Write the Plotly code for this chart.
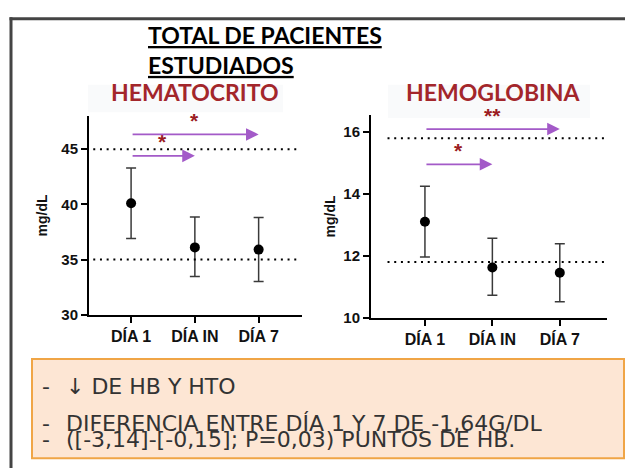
import plotly.graph_objects as go

# the page places the figure 8px in from the left edge
OFFX, OFFY = 8, 0
W, H = 633 - OFFX, 468 - OFFY

# ---------------- data ----------------
categories = ["DÍA 1", "DÍA IN", "DÍA 7"]
hto_mean = [40.1, 36.1, 35.9]
hto_upper = [43.3, 38.85, 38.8]
hto_lower = [36.9, 33.45, 33.0]
hb_mean = [13.1, 11.62, 11.45]
hb_upper = [14.25, 12.57, 12.39]
hb_lower = [11.96, 10.72, 10.51]
hto_ref_lines = [35, 45]
hb_ref_lines = [11.8, 15.8]
hto_ticks = [30, 35, 40, 45]
hb_ticks = [10, 12, 14, 16]
hto_range = [30, 48]
hb_range = [10, 16.55]
# comparisons: from index, to index, arrow level, label
hto_sig_from = [0, 0]
hto_sig_to = [1, 2]
hto_sig_arrow = [44.4, 46.34]
hto_sig_label = ["*", "*"]
hb_sig_from = [0, 0]
hb_sig_to = [1, 2]
hb_sig_arrow = [14.96, 16.1]
hb_sig_label = ["*", "**"]

main_title = ["TOTAL DE PACIENTES", "ESTUDIADOS"]
panel_titles = ["HEMATOCRITO", "HEMOGLOBINA"]
y_label = "mg/dL"
notes = ["↓ DE HB Y HTO",
         "DIFERENCIA ENTRE DÍA 1 Y 7 DE -1,64G/DL",
         "([-3,14]-[-0,15]; P=0,03) PUNTOS DE HB."]

# ---------------- styling ----------------
def px(x):
    return (x - OFFX) / W


def py(y):
    return 1 - (y - OFFY) / H


HEAD_RED = "#a3262b"
STAR_RED = "#9b1c22"
ARROW = "#a35ac8"
TICKFONT = "Liberation Sans, Arial, sans-serif"

fig = go.Figure()

panels = [
    dict(xa="x", ya="y", mean=hto_mean, up=hto_upper, lo=hto_lower,
         refs=hto_ref_lines, ticks=hto_ticks, rng=hto_range,
         sf=hto_sig_from, st=hto_sig_to, sa=hto_sig_arrow, sl=hto_sig_label,
         xdom=[px(89), px(302)], ydom=[py(312), py(110)], xr=[-0.66, 2.68],
         dot0=0.02, standoff=10),
    dict(xa="x2", ya="y2", mean=hb_mean, up=hb_upper, lo=hb_lower,
         refs=hb_ref_lines, ticks=hb_ticks, rng=hb_range,
         sf=hb_sig_from, st=hb_sig_to, sa=hb_sig_arrow, sl=hb_sig_label,
         xdom=[px(371), px(607)], ydom=[py(315), py(109)], xr=[-0.8, 2.7],
         dot0=0.07, standoff=4),
]

shapes = []
annotations = []

for i, p in enumerate(panels):
    err_plus = [u - m for u, m in zip(p["up"], p["mean"])]
    err_minus = [m - l for m, l in zip(p["mean"], p["lo"])]
    fig.add_trace(go.Scatter(
        x=categories, y=p["mean"], mode="markers",
        marker=dict(color="black", size=10),
        error_y=dict(type="data", array=err_plus, arrayminus=err_minus,
                     color="#3a3a3a", thickness=1.5, width=5),
        xaxis=p["xa"], yaxis=p["ya"], showlegend=False, cliponaxis=False,
    ))
    for r in p["refs"]:
        shapes.append(dict(type="line", xref=p["xa"] + " domain", yref=p["ya"],
                           x0=p["dot0"], x1=0.99, y0=r, y1=r,
                           line=dict(color="black", width=2, dash="2px,4.7px")))
    for f, t, a, lab in zip(p["sf"], p["st"], p["sa"], p["sl"]):
        annotations.append(dict(xref=p["xa"], yref=p["ya"], x=t, y=a,
                                axref=p["xa"], ayref=p["ya"], ax=f, ay=a,
                                showarrow=True, arrowhead=2, arrowsize=1.4,
                                arrowwidth=1.8, arrowcolor=ARROW, text="",
                                standoff=0, startstandoff=0))
        annotations.append(dict(xref=p["xa"], yref=p["ya"], x=(f + t) / 2, y=a,
                                text="<b>%s</b>" % lab, showarrow=False,
                                font=dict(family=TICKFONT, size=21, color=STAR_RED),
                                yanchor="middle", yshift=14))

    axis_common = dict(showline=True, linecolor="black", linewidth=2,
                       ticks="outside", ticklen=6, tickwidth=2, tickcolor="black",
                       showgrid=False, zeroline=False)
    xkey = "xaxis" if i == 0 else "xaxis2"
    ykey = "yaxis" if i == 0 else "yaxis2"
    fig.update_layout(**{
        xkey: dict(domain=p["xdom"], anchor=p["ya"], range=p["xr"],
                   type="category", categoryorder="array", categoryarray=categories,
                   tickfont=dict(family=TICKFONT, size=16, color="#111", weight="bold"),
                   **axis_common),
        ykey: dict(domain=p["ydom"], anchor=p["xa"], range=p["rng"],
                   tickvals=p["ticks"],
                   tickfont=dict(family=TICKFONT, size=15, color="#111", weight="bold"),
                   title=dict(text="<b>%s</b>" % y_label, standoff=p["standoff"],
                              font=dict(family=TICKFONT, size=14, color="#111")),
                   **axis_common),
    })

# faint backgrounds behind panel headings
shapes.append(dict(type="rect", xref="paper", yref="paper",
                   x0=px(88), x1=px(283), y0=py(106), y1=py(78),
                   fillcolor="#f9fafb", line=dict(width=0), layer="below"))
shapes.append(dict(type="rect", xref="paper", yref="paper",
                   x0=px(388), x1=px(590), y0=py(112), y1=py(78),
                   fillcolor="#f9fafb", line=dict(width=0), layer="below"))

# outer frame (left + top)
shapes.append(dict(type="line", xref="paper", yref="paper",
                   x0=px(11), x1=px(11), y0=0, y1=py(9.5),
                   line=dict(color="#444", width=3)))
shapes.append(dict(type="line", xref="paper", yref="paper",
                   x0=px(9.5), x1=1, y0=py(11), y1=py(11),
                   line=dict(color="#444", width=3)))

# notes box
shapes.append(dict(type="rect", xref="paper", yref="paper",
                   x0=px(32), x1=px(624), y0=py(458), y1=py(357),
                   fillcolor="#fde6d4", line=dict(color="#f0a546", width=2)))

# main title (two lines)
annotations.append(dict(xref="paper", yref="paper", x=px(146), y=py(43),
                        xanchor="left", yanchor="middle", showarrow=False, align="left",
                        text="<br>".join("<b><u>%s</u></b>" % t for t in main_title),
                        font=dict(family="Lato, sans-serif", size=23, color="black")))

# panel headings
for txt, xc in zip(panel_titles, [195, 493]):
    annotations.append(dict(xref="paper", yref="paper", x=px(xc), y=py(85),
                            xanchor="center", yanchor="middle", showarrow=False,
                            text="<b>%s</b>" % txt,
                            font=dict(family="Lato, sans-serif", size=23, color=HEAD_RED)))

# notes text
NOTEFONT = dict(family="DejaVu Sans, sans-serif", size=22, color="#333")
for txt, yc in zip(notes, [385, 423, 439]):
    annotations.append(dict(xref="paper", yref="paper", x=px(40), y=py(yc),
                            xanchor="left", yanchor="middle", showarrow=False,
                            text="-", font=NOTEFONT))
    annotations.append(dict(xref="paper", yref="paper", x=px(64), y=py(yc),
                            xanchor="left", yanchor="middle", showarrow=False,
                            text=txt, font=NOTEFONT))

fig.update_layout(
    width=W, height=H, margin=dict(l=0, r=0, t=0, b=0),
    paper_bgcolor="white", plot_bgcolor="white",
    shapes=shapes, annotations=annotations, showlegend=False,
)

fig.write_html("out.html")
